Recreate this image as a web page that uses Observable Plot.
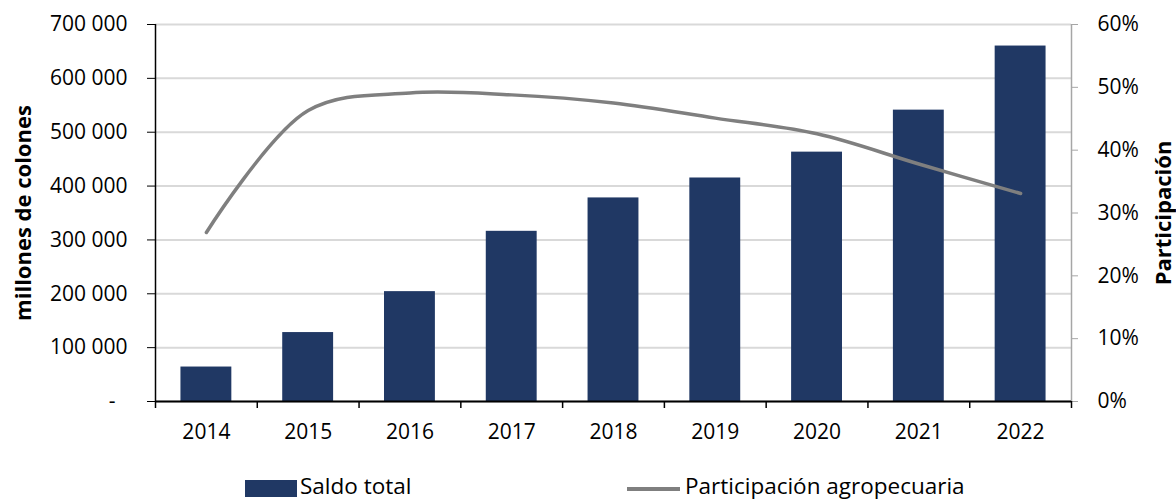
<!DOCTYPE html>
<html>
<head>
<meta charset="utf-8">
<script src="https://cdn.jsdelivr.net/npm/d3@7"></script>
<script src="https://cdn.jsdelivr.net/npm/@observablehq/plot@0.6"></script>
<style>
  html, body { margin: 0; padding: 0; background: #fff; }
  #wrap { width: 1176px; height: 500px; position: relative; overflow: hidden; font-family: "Open Sans", sans-serif; }
  #wrap svg { display: block; }
  #legend { position: relative; width: 1176px; height: 45px; }
  .sw-bar { position: absolute; left: 245px; top: 25px; width: 52px; height: 17px; background: #203864; }
  .sw-line { position: absolute; left: 627px; top: 32px; width: 53px; height: 4px; background: #7f7f7f; }
  .lt { position: absolute; top: 18px; font-size: 22.5px; line-height: 25px; color: #000; white-space: nowrap; }
</style>
</head>
<body>
<div id="wrap"></div>
<script>
// ---- data ----
const years = [2014, 2015, 2016, 2017, 2018, 2019, 2020, 2021, 2022];
const saldoTotal = [64000, 128000, 204000, 316000, 378000, 415000, 463000, 541000, 660000];
const participacion = [0.269, 0.463, 0.491, 0.488, 0.475, 0.451, 0.426, 0.378, 0.331];
const leftTicks = [0, 100000, 200000, 300000, 400000, 500000, 600000, 700000];
const rightTicks = [0, 0.1, 0.2, 0.3, 0.4, 0.5, 0.6];
const leftTitle = "millones de colones";
const rightTitle = "Participación";
const legendLabels = ["Saldo total", "Participación agropecuaria"];

// ---- build ----
const yMax = leftTicks[leftTicks.length - 1];
const pMax = rightTicks[rightTicks.length - 1];
const k = yMax / pMax;
const data = years.map((y, i) => ({year: y, saldo: saldoTotal[i], pct: participacion[i]}));
const xDomain = [years[0] - 0.5, years[years.length - 1] + 0.5];
const bounds = d3.range(years.length + 1).map(i => years[0] - 0.5 + i);

const loc = d3.formatLocale({decimal: ",", thousands: "\u00a0", grouping: [3], currency: ["", ""]});
const fmt = loc.format(",");
const leftFmt = v => v === 0 ? "-\u2007" : fmt(v);
const rightFmt = v => Math.round(v / k * 100) + "%";

const chart = Plot.plot({
  width: 1176,
  height: 455,
  marginLeft: 155,
  marginRight: 105,
  marginTop: 24,
  marginBottom: 54,
  style: {fontFamily: "Open Sans, sans-serif", fontSize: "21px", color: "#000", background: "#fff", overflow: "visible"},
  x: {type: "linear", domain: xDomain},
  y: {domain: [0, yMax]},
  marks: [
    Plot.gridY(leftTicks, {stroke: "#d9d9d9", strokeOpacity: 1, strokeWidth: 2}),
    Plot.rectY(data, {x1: d => d.year - 0.25, x2: d => d.year + 0.25, y: "saldo", fill: "#203864"}),
    Plot.line(data, {x: "year", y: d => d.pct * k, stroke: "#7f7f7f", strokeWidth: 3.5, curve: "catmull-rom"}),
    Plot.ruleX([xDomain[0]], {stroke: "#000", strokeWidth: 1.5}),
    Plot.ruleX([xDomain[1]], {stroke: "#a6a6a6", strokeWidth: 1.5}),
    Plot.ruleY([0], {stroke: "#000", strokeWidth: 2}),
    Plot.axisY(leftTicks, {anchor: "left", tickSize: 8, tickPadding: 20, tickFormat: leftFmt, stroke: "#000", fill: "#000", label: null}),
    Plot.axisY(rightTicks.map(p => p * k), {anchor: "right", tickSize: 6, tickPadding: 20, tickFormat: rightFmt, stroke: "#a6a6a6", fill: "#000", label: null}),
    Plot.axisX(bounds, {anchor: "bottom", tickSize: 7, tickFormat: () => "", stroke: "#000", strokeWidth: 1.5, label: null}),
    Plot.axisX(years, {anchor: "bottom", tickSize: 0, tickPadding: 23, tickFormat: d => String(d), fill: "#000", label: null}),
    Plot.text([leftTitle], {frameAnchor: "left", dx: -132, rotate: -90, textAnchor: "middle", lineAnchor: "middle", text: d => d, fontWeight: "bold", fontSize: 22, fill: "#000"}),
    Plot.text([rightTitle], {frameAnchor: "right", dx: 92, rotate: -90, textAnchor: "middle", lineAnchor: "middle", text: d => d, fontWeight: "bold", fontSize: 22, fill: "#000"})
  ]
});

const wrap = document.getElementById("wrap");
wrap.appendChild(chart);
const legend = document.createElement("div");
legend.id = "legend";
legend.innerHTML =
  '<div class="sw-bar"></div><div class="lt" style="left:300px">' + legendLabels[0] + '</div>' +
  '<div class="sw-line"></div><div class="lt" style="left:685px">' + legendLabels[1] + '</div>';
wrap.appendChild(legend);
</script>
</body>
</html>
